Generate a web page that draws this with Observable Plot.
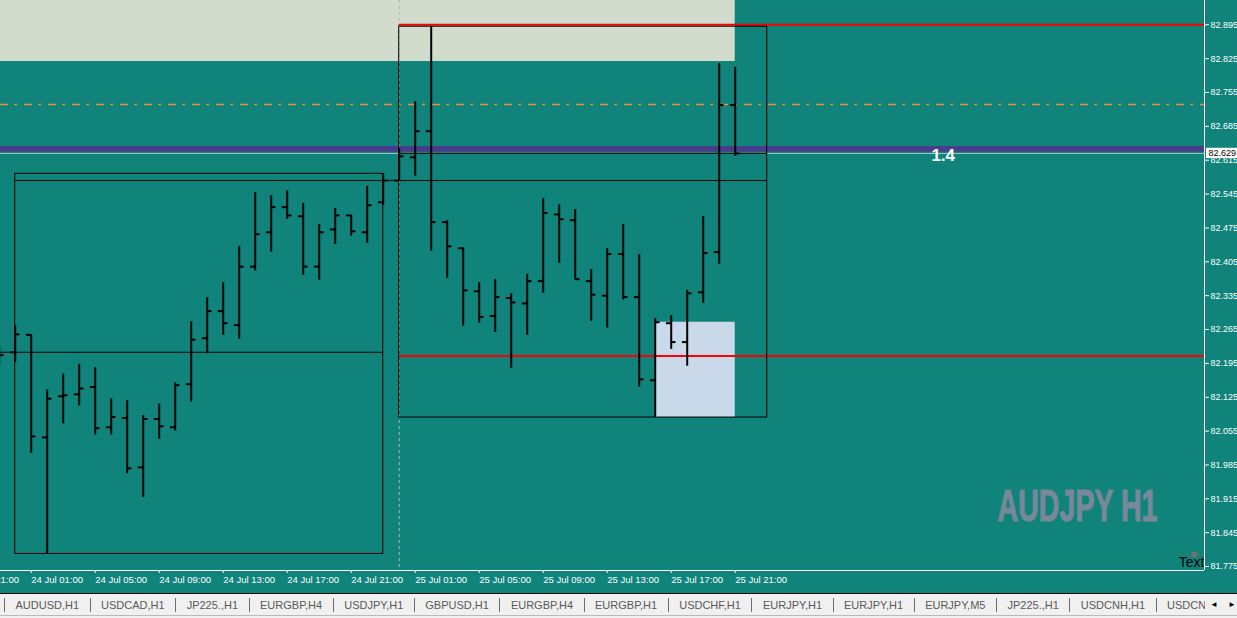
<!DOCTYPE html>
<html><head><meta charset="utf-8">
<script src="https://cdn.jsdelivr.net/npm/d3@7"></script>
<script src="https://cdn.jsdelivr.net/npm/@observablehq/plot@0.6"></script>
<style>
html,body{margin:0;padding:0;background:#f0f0f0;width:1237px;height:618px;overflow:hidden;}
#chart svg{display:block}
#tabs{position:relative;height:21px;border-top:1px solid #000;border-bottom:1px solid #b9b9b9;background:#f0f0f0;font:11px "Liberation Sans",Arial,sans-serif;color:#585858;}
#tabrow{position:absolute;left:0;top:0;width:1205px;height:21px;white-space:nowrap;overflow:hidden;padding-left:4px;box-sizing:border-box;display:flex;align-items:center}
.sep{display:inline-block;width:1px;height:14px;background:#6e6e6e;flex:none}
.tab{padding:0 10.5px;flex:none}
.tab:last-child{flex:0 1 auto;min-width:0;overflow:hidden;padding-right:0}
#arrows{position:absolute;right:0;top:0;height:21px;width:32px;background:#f0f0f0;font-size:8px;color:#000;display:flex;align-items:center;justify-content:space-between;padding:0 1px 0 5px;box-sizing:border-box}
</style></head>
<body><div id="chart"></div><div id="tabs"><div id="tabrow"></div></div>
<script>
// ---- data ----
const opens  = [82.200,82.218,82.254,82.042,82.127,82.131,82.146,82.063,82.082,81.980,82.080,82.063,82.152,82.247,82.303,82.274,82.395,82.466,82.518,82.499,82.395,82.472,82.501,82.466,82.528,
                82.573,82.621,82.675,82.487,82.433,82.344,82.293,82.330,82.319,82.365,82.503,82.491,82.365,82.335,82.421,82.332,82.160,82.278,82.239,82.342,82.425,82.729];
const highs  = [82.230,82.273,82.254,82.140,82.173,82.193,82.186,82.122,82.118,82.087,82.111,82.155,82.281,82.331,82.362,82.437,82.548,82.542,82.552,82.526,82.482,82.515,82.501,82.561,82.587,
                82.639,82.736,82.891,82.490,82.434,82.362,82.368,82.339,82.379,82.536,82.523,82.513,82.389,82.432,82.482,82.420,82.288,82.294,82.346,82.499,82.815,82.807];
const lows   = [82.190,82.197,82.009,81.801,82.070,82.107,82.047,82.047,81.967,81.918,82.038,82.055,82.115,82.215,82.253,82.245,82.386,82.425,82.493,82.377,82.367,82.441,82.458,82.443,82.521,
                82.573,82.582,82.427,82.371,82.272,82.278,82.259,82.185,82.253,82.340,82.402,82.369,82.282,82.268,82.326,82.146,82.083,82.224,82.189,82.319,82.400,82.623];
const closes = [82.212,82.255,82.044,82.122,82.129,82.143,82.061,82.084,81.978,82.080,82.065,82.150,82.244,82.303,82.278,82.395,82.462,82.518,82.501,82.395,82.466,82.501,82.468,82.522,82.573,
                82.623,82.675,82.487,82.437,82.346,82.291,82.332,82.321,82.365,82.506,82.493,82.369,82.337,82.421,82.332,82.162,82.280,82.239,82.340,82.423,82.729,82.629];
const firstBar = "2019-07-23T23:00Z";
const priceTicks = [82.895,82.825,82.755,82.685,82.615,82.545,82.475,82.405,82.335,82.265,82.195,82.125,82.055,81.985,81.915,81.845,81.775];
const timeTicks = ["2019-07-23T21:00Z","2019-07-24T01:00Z","2019-07-24T05:00Z","2019-07-24T09:00Z","2019-07-24T13:00Z","2019-07-24T17:00Z","2019-07-24T21:00Z",
                   "2019-07-25T01:00Z","2019-07-25T05:00Z","2019-07-25T09:00Z","2019-07-25T13:00Z","2019-07-25T17:00Z","2019-07-25T21:00Z"];
const redLevels = [82.895, 82.210];
const redFrom = "2019-07-25T00:00Z";
const orangeLevel = 82.730;
const bandLow = 82.6316, bandHigh = 82.6434;
const bidPrice = 82.629;
const zoneLow = 82.819, zoneHigh = 83.000, zoneFrom = "2019-07-23T00:00Z", zoneTo = "2019-07-25T21:00Z";
const boxFrom = "2019-07-25T16:00Z", boxTo = "2019-07-25T21:00Z", boxLow = 82.083, boxHigh = 82.280;
const ratioLabel = "1.4", ratioTime = "2019-07-26T10:00Z", ratioPrice = 82.624;
const watermark = "AUDJPY H1";
const cornerText = "Text";
const tabs = ["AUDUSD,H1","USDCAD,H1","JP225.,H1","EURGBP,H4","USDJPY,H1","GBPUSD,H1","EURGBP,H4","EURGBP,H1","USDCHF,H1","EURJPY,H1","EURJPY,H1","EURJPY,M5","JP225.,H1","USDCNH,H1","USDCNH,H4"];

// ---- build ----
const H = 3600e3;
const t0 = new Date(firstBar);
const bars = opens.map((o,i)=>({t:new Date(+t0 + i*H), open:o, high:highs[i], low:lows[i], close:closes[i]}));
const days = d3.groups(bars.slice(1), d=>d3.utcDay.floor(d.t)).map(([day, bs])=>({
  start: bs[0].t, end: new Date(+day + 23*H),
  open: bs[0].open, close: bs[bs.length-1].close,
  high: d3.max(bs,d=>d.high), low: d3.min(bs,d=>d.low)
}));
const dayStart = new Date("2019-07-24T00:00Z");
const xDomain = [new Date(+dayStart - 0.919*H), new Date(+dayStart + 74.33*H)];
const yDomain = [81.7668, 82.9452];
const tick = 18*60e3;
const font = "'Liberation Sans', Arial, sans-serif";

const plot = Plot.plot({
  width:1237, height:593, marginLeft:0, marginRight:33, marginTop:0, marginBottom:23,
  style:{background:"#10837b", color:"white", fontFamily:font, fontSize:"9.5px"},
  x:{type:"utc", domain:xDomain},
  y:{domain:yDomain},
  marks:[
    Plot.rect([{a:new Date(zoneFrom), b:new Date(zoneTo), lo:zoneLow, hi:zoneHigh}], {x1:"a", x2:"b", y1:"lo", y2:"hi", fill:"#d1dccd", clip:true}),
    Plot.rect([{a:new Date(boxFrom), b:new Date(boxTo), lo:boxLow, hi:boxHigh}], {x1:"a", x2:"b", y1:"lo", y2:"hi", fill:"#c9d9ea"}),
    Plot.rect([{lo:bandLow, hi:bandHigh}], {x1:()=>xDomain[0], x2:()=>xDomain[1], y1:"lo", y2:"hi", fill:"#483d8b"}),
    Plot.ruleY([bidPrice], {stroke:"#a9c4c8"}),
    Plot.ruleX([new Date(redFrom)], {stroke:"#b4b4b4", strokeDasharray:"3,3"}),
    Plot.ruleY([orangeLevel], {stroke:"#f28c3c", strokeWidth:1.5, strokeDasharray:"8,6,3,7"}),
    Plot.ruleY(redLevels, {x1:()=>new Date(redFrom), x2:()=>xDomain[1], stroke:"#ff0000", strokeWidth:2}),
    Plot.rect(days, {x1:"start", x2:"end", y1:"low", y2:"high", fill:"none", stroke:"black", strokeWidth:1}),
    Plot.ruleY(days, {y:"open", x1:d=>new Date(+d.start - H), x2:"end", stroke:"black", clip:true}),
    Plot.ruleY(days, {y:"close", x1:"start", x2:"end", stroke:"black"}),
    Plot.ruleX(bars, {x:"t", y1:"low", y2:"high", stroke:"black", strokeWidth:2, clip:true}),
    Plot.ruleY(bars, {y:"open", x1:d=>new Date(+d.t - tick), x2:"t", stroke:"black", strokeWidth:2, clip:true}),
    Plot.ruleY(bars, {y:"close", x1:"t", x2:d=>new Date(+d.t + tick), stroke:"black", strokeWidth:2, clip:true}),
    Plot.text([ratioLabel], {x:()=>new Date(ratioTime), y:()=>ratioPrice, text:d=>d, fill:"white", fontWeight:"bold", fontSize:17, fontFamily:font}),
    Plot.text([watermark], {frameAnchor:"bottom-right", textAnchor:"end", dx:-47, dy:-50, text:d=>d, fill:"#778899", stroke:"#778899", strokeWidth:1.2, fontWeight:"bold", fontSize:44}),
    Plot.dot([0], {frameAnchor:"bottom-right", dx:-10, dy:-16, r:3.2, fill:"#6f6f6f"}),
    Plot.text([cornerText], {frameAnchor:"bottom-right", textAnchor:"end", dx:0, dy:-4, text:d=>d, fill:"black", fontSize:14}),
    Plot.ruleY([yDomain[0]], {stroke:"white"}),
    Plot.ruleX([xDomain[1]], {stroke:"white"}),
    Plot.axisY(priceTicks, {anchor:"right", tickSize:4, tickPadding:2, tickFormat:d3.format(".3f"), label:null, fill:"white", stroke:"white", fontSize:9}),
    Plot.axisX(timeTicks.map(d=>new Date(d)), {anchor:"bottom", tickSize:3, tickPadding:3, tickFormat:d3.utcFormat("%d %b %H:%M"), textAnchor:"start", label:null, fill:"white", stroke:"white"}),
    Plot.rect([bidPrice], {x1:()=>xDomain[1], x2:()=>xDomain[1], y1:d=>d-0.0107, y2:d=>d+0.0107, insetLeft:2, insetRight:-40, fill:"white"}),
    Plot.text([bidPrice], {x:()=>xDomain[1], y:d=>d, text:d=>d3.format(".3f")(d), dx:4, textAnchor:"start", fill:"#000", fontSize:9})
  ]
});
document.getElementById("chart").appendChild(plot);
// narrow the watermark glyphs horizontally (condensed look) around its right anchor
d3.select(plot).selectAll("text").filter(function(){return this.textContent===watermark;})
  .each(function(){
    const w = this.getComputedTextLength();
    const tr = this.getAttribute("transform") || "";
    this.setAttribute("transform", tr + " scale(" + (160 / w) + ",1)");
  });

// tabs
const rowEl = document.getElementById("tabrow");
tabs.forEach(t=>{
  const s=document.createElement("span"); s.className="sep"; rowEl.appendChild(s);
  const e=document.createElement("span"); e.className="tab"; e.textContent=t; rowEl.appendChild(e);
});
const arr=document.createElement("div"); arr.id="arrows"; arr.innerHTML="<span>\u25C4</span><span>\u25BA</span>"; document.getElementById("tabs").appendChild(arr);
</script></body></html>
